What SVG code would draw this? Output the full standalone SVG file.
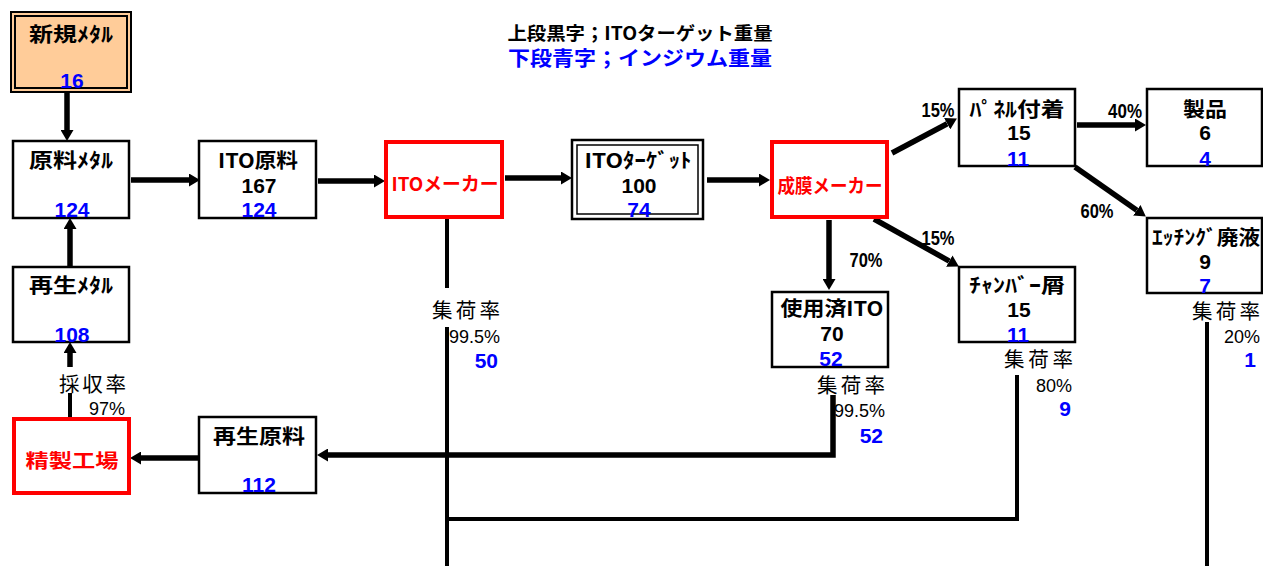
<svg xmlns="http://www.w3.org/2000/svg" width="1263" height="566" viewBox="0 0 1263 566">
<style>
.bx{fill:#fff;stroke:#000;stroke-width:2.5}
.rbx{fill:#fff;stroke:#f00;stroke-width:4}
.t{font-family:"Noto Sans CJK JP",sans-serif;font-weight:bold;font-size:20px;fill:#000;text-anchor:middle}
.rt{font-family:"Noto Sans CJK JP",sans-serif;font-weight:bold;font-size:19px;fill:#f00;text-anchor:middle}
.n{font-family:"Liberation Sans",Arial,sans-serif;font-weight:bold;font-size:21px;fill:#000;text-anchor:middle}
.b{font-family:"Liberation Sans",Arial,sans-serif;font-weight:bold;font-size:21px;fill:#00f;text-anchor:middle}
.be{font-family:"Liberation Sans",Arial,sans-serif;font-weight:bold;font-size:21px;fill:#00f;text-anchor:end}
.p{font-family:"Liberation Sans",Arial,sans-serif;font-weight:bold;font-size:21px;fill:#000;text-anchor:middle}
.c{font-family:"Noto Sans CJK JP",sans-serif;font-size:20.5px;fill:#000}
.r{font-family:"Liberation Sans",Arial,sans-serif;font-size:18px;fill:#000;text-anchor:end}
.a{fill:none;stroke:#000;stroke-width:5.5;marker-end:url(#ah)}
.l{fill:none;stroke:#000;stroke-width:4}
.h{font-family:"Noto Sans CJK JP",sans-serif;font-weight:bold;text-anchor:middle}
</style>
<defs>
<marker id="ah" markerUnits="userSpaceOnUse" markerWidth="12" markerHeight="13" refX="0" refY="6.5" orient="auto">
<path d="M0,0 L11,6.5 L0,13 z" fill="#000"/>
</marker>
</defs>

<g id="header">
<text class="h" x="640" y="40" font-size="18" textLength="265" lengthAdjust="spacingAndGlyphs">上段黒字；ITOターゲット重量</text>
<text class="h" x="640" y="66" font-size="20" fill="#00f" textLength="264" lengthAdjust="spacingAndGlyphs">下段青字；インジウム重量</text>
</g>

<g id="connectors">
<path class="a" d="M67,92 V130"/>
<path class="a" d="M131,180 H189"/>
<path class="a" d="M318,181 H374"/>
<path class="a" d="M505,178 H561"/>
<path class="a" d="M707,180 H759"/>
<path class="a" d="M892,153 L947.2,123.7"/>
<path class="a" d="M874,219 L949.3,261.1"/>
<path class="a" d="M829,220 V279"/>
<path class="a" d="M1077,125 H1135"/>
<path class="a" d="M1075,167 L1136.8,210.3"/>
<path class="a" d="M70,267 V229"/>
<path class="a" d="M70,367 V353"/>
<path class="l" d="M70,393 V417" stroke-width="5"/>
<path class="a" d="M198,458 H141"/>
<path class="a" d="M833,395 V455 H328" stroke-width="5"/>
<path class="l" d="M447,219 V288"/>
<path class="l" d="M447,327 V566"/>
<path class="l" d="M447,519 H1017 V375"/>
<path class="l" d="M1207,322 V566"/>
</g>

<g id="labels">
<text class="p" x="938" y="117" textLength="33" lengthAdjust="spacingAndGlyphs">15%</text>
<text class="p" x="1125" y="118" textLength="34" lengthAdjust="spacingAndGlyphs">40%</text>
<text class="p" x="1097" y="218" textLength="33" lengthAdjust="spacingAndGlyphs">60%</text>
<text class="p" x="938" y="245" textLength="33" lengthAdjust="spacingAndGlyphs">15%</text>
<text class="p" x="866" y="267" textLength="33" lengthAdjust="spacingAndGlyphs">70%</text>

<text class="c" x="432" y="318" textLength="68">集荷率</text>
<text class="r" x="500" y="343">99.5%</text>
<text class="be" x="498" y="368">50</text>

<text class="c" x="817" y="393" textLength="68">集荷率</text>
<text class="r" x="885" y="417">99.5%</text>
<text class="be" x="883" y="443">52</text>

<text class="c" x="1004" y="367" textLength="69">集荷率</text>
<text class="r" x="1072" y="392">80%</text>
<text class="be" x="1071" y="416">9</text>

<text class="c" x="1192" y="319" textLength="68">集荷率</text>
<text class="r" x="1260" y="343">20%</text>
<text class="be" x="1256" y="367">1</text>

<text class="c" x="59" y="392" textLength="67">採収率</text>
<text class="r" x="125" y="415">97%</text>
</g>

<g id="shinki-metal">
<rect x="11" y="12" width="120" height="80" fill="#ffcc99" stroke="#000" stroke-width="2"/>
<rect x="15" y="16" width="112" height="72" fill="none" stroke="#000" stroke-width="2"/>
<text class="t" x="71" y="42" textLength="84" lengthAdjust="spacingAndGlyphs">新規ﾒﾀﾙ</text>
<text class="b" x="72" y="88">16</text>
</g>

<g id="genryo-metal">
<rect class="bx" x="13" y="141" width="116" height="77"/>
<text class="t" x="71" y="168" textLength="84" lengthAdjust="spacingAndGlyphs">原料ﾒﾀﾙ</text>
<text class="b" x="72" y="217">124</text>
</g>

<g id="ito-genryo">
<rect class="bx" x="199" y="141" width="117" height="77"/>
<text class="t" x="258" y="168" textLength="80" lengthAdjust="spacingAndGlyphs">ITO原料</text>
<text class="n" x="259" y="193">167</text>
<text class="b" x="259" y="217">124</text>
</g>

<g id="ito-maker">
<rect class="rbx" x="386" y="142" width="116" height="75"/>
<text class="rt" x="445" y="191" textLength="107" lengthAdjust="spacingAndGlyphs">ITOメーカー</text>
</g>

<g id="ito-target">
<rect x="572" y="140" width="131" height="79" fill="#fff" stroke="#000" stroke-width="2.5"/>
<rect x="577" y="145" width="121" height="69" fill="none" stroke="#000" stroke-width="1.5"/>
<text class="t" x="638" y="168" textLength="107" lengthAdjust="spacingAndGlyphs">ITOﾀｰｹﾞｯﾄ</text>
<text class="n" x="639" y="193">100</text>
<text class="b" x="639" y="217">74</text>
</g>

<g id="seimaku-maker">
<rect class="rbx" x="772" y="142" width="115" height="75"/>
<text class="rt" x="830" y="193" textLength="105" lengthAdjust="spacingAndGlyphs">成膜メーカー</text>
</g>

<g id="panel">
<rect class="bx" x="959" y="89" width="116" height="77"/>
<text class="t" x="1017" y="117" textLength="95" lengthAdjust="spacingAndGlyphs">ﾊﾟﾈﾙ付着</text>
<text class="n" x="1019" y="140">15</text>
<text class="b" x="1018" y="166">11</text>
</g>

<g id="seihin">
<rect class="bx" x="1147" y="89" width="115" height="77"/>
<text class="t" x="1205" y="117" textLength="44" lengthAdjust="spacingAndGlyphs">製品</text>
<text class="n" x="1205" y="140">6</text>
<text class="b" x="1205" y="166">4</text>
</g>

<g id="etching">
<rect class="bx" x="1147" y="218" width="115" height="75"/>
<text class="t" x="1206" y="245" textLength="108" lengthAdjust="spacingAndGlyphs">ｴｯﾁﾝｸﾞ廃液</text>
<text class="n" x="1205" y="269">9</text>
<text class="b" x="1205" y="293">7</text>
</g>

<g id="chamber">
<rect class="bx" x="959" y="267" width="116" height="75"/>
<text class="t" x="1017" y="293" textLength="96" lengthAdjust="spacingAndGlyphs">ﾁｬﾝﾊﾞｰ屑</text>
<text class="n" x="1019" y="317">15</text>
<text class="b" x="1018" y="342">11</text>
</g>

<g id="shiyozumi">
<rect class="bx" x="772" y="292" width="116" height="75"/>
<text class="t" x="832" y="316" textLength="103" lengthAdjust="spacingAndGlyphs">使用済ITO</text>
<text class="n" x="832" y="341">70</text>
<text class="b" x="831" y="366">52</text>
</g>

<g id="saisei-metal">
<rect class="bx" x="13" y="267" width="116" height="75"/>
<text class="t" x="71" y="293" textLength="84" lengthAdjust="spacingAndGlyphs">再生ﾒﾀﾙ</text>
<text class="b" x="72" y="342">108</text>
</g>

<g id="seisei-kojo">
<rect class="rbx" x="14" y="419" width="115" height="74"/>
<text class="rt" x="72" y="468" font-size="21" textLength="93" lengthAdjust="spacingAndGlyphs">精製工場</text>
</g>

<g id="saisei-genryo">
<rect class="bx" x="199" y="417" width="117" height="76"/>
<text class="t" x="259" y="444" textLength="92" lengthAdjust="spacingAndGlyphs">再生原料</text>
<text class="b" x="259" y="492">112</text>
</g>
</svg>
